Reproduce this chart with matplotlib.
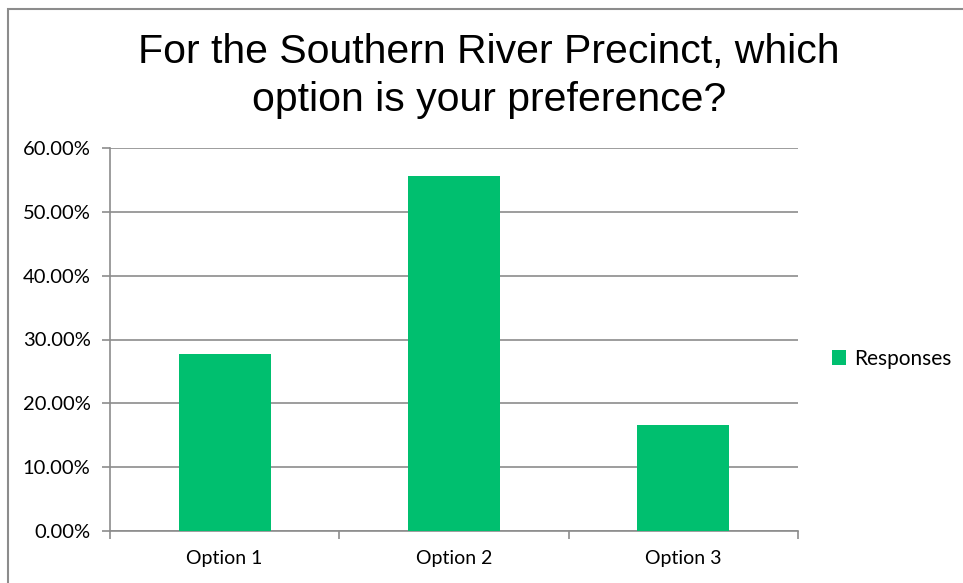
import matplotlib.pyplot as plt
from matplotlib.patches import Rectangle
from matplotlib.ticker import FuncFormatter

categories = ['Option 1', 'Option 2', 'Option 3']
responses = [0.2778, 0.5556, 0.1667]
y_ticks = [0.0, 0.1, 0.2, 0.3, 0.4, 0.5, 0.6]

green = '#00BF6F'
gray = '#8C8C8C'

fig = plt.figure(figsize=(9.63, 5.83), dpi=100)
fig.patches.append(Rectangle((8 / 963, -0.1), 1.2, 1.1 - 9 / 583, transform=fig.transFigure,
                             fill=False, edgecolor=gray, linewidth=1.5))

ax = fig.add_axes([110 / 963, 1 - 531 / 583, 688 / 963, 383 / 583])
x = range(len(categories))
ax.bar(x, responses, width=0.4, color=green, label='Responses', zorder=3)

ax.set_xlim(-0.5, 2.5)
ax.set_ylim(0, 0.6)
ax.set_yticks(y_ticks)
ax.yaxis.set_major_formatter(FuncFormatter(lambda v, p: f'{v * 100:.2f}%'))
ax.grid(axis='y', color=gray, linewidth=1.2, zorder=0)

ax.set_xticks([-0.5, 0.5, 1.5, 2.5])
ax.set_xticklabels([])
ax.set_xticks(list(x), minor=True)
ax.set_xticklabels(categories, minor=True, fontsize=14, family='Lato')
ax.tick_params(axis='x', which='minor', length=0, pad=14)
ax.tick_params(axis='x', which='major', length=6, color=gray, width=1.2)
ax.tick_params(axis='y', length=6, color=gray, width=1.2, labelsize=14.5, pad=8)
for lbl in ax.get_yticklabels():
    lbl.set_family('Lato')

for s in ['top', 'right']:
    ax.spines[s].set_visible(False)
for s in ['left', 'bottom']:
    ax.spines[s].set_color(gray)
    ax.spines[s].set_linewidth(1.2)

fig.text(489 / 963, 1 - 76 / 583, 'For the Southern River Precinct, which\noption is your preference?',
         ha='center', va='center', fontsize=29.5, family='Liberation Sans', linespacing=1.35)

ax.legend(loc='center left', bbox_to_anchor=(1.022, 0.45), frameon=False,
          prop={'family': 'Lato', 'size': 15}, handlelength=0.7, handleheight=0.7,
          handletextpad=0.35)

fig.savefig('out.png', dpi=100)
